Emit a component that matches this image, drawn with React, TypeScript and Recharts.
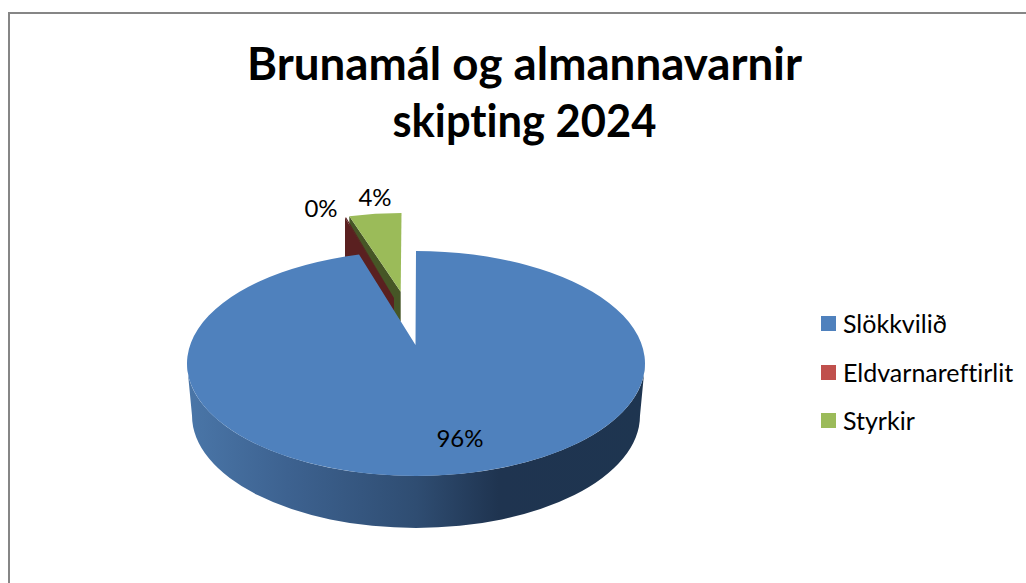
import React from "react";
import { PieChart, Pie, Legend } from "recharts";

const categories = ["Slökkvilið", "Eldvarnareftirlit", "Styrkir"];
const values = [96, 0.1, 3.9];
const colors = ["#4F81BD", "#C0504D", "#9BBB59"];
const titleLines = ["Brunamál og almannavarnir", "skipting 2024"];

// Drawn last-to-first so the large slice overlaps the exploded ones.
const table = categories.map((name, i) => ({ name, value: values[i], fill: colors[i] })).reverse();

const FONT = "Lato, 'Open Sans', sans-serif";
const TITLE_WIDTHS = [555, 264];

type Geo = {
  ax: number; ay: number; cx: number; cy: number; rx: number; ry: number;
  wall: string; outerDepth: number; apexDepth: number;
  labelX: number; labelY: number;
};
const GEO: Record<string, Geo> = {
  "Slökkvilið": { ax: 415.5, ay: 345, cx: 416, cy: 363.5, rx: 229, ry: 112.5, wall: "url(#blueWall)", outerDepth: 52, apexDepth: 0, labelX: 460, labelY: 447 },
  "Eldvarnareftirlit": { ax: 394, ay: 298, cx: 394, cy: 314.5, rx: 197, ry: 100, wall: "#5A2020", outerDepth: 40, apexDepth: 30, labelX: 321, labelY: 217 },
  "Styrkir": { ax: 400.7, ay: 291.7, cx: 401.5, cy: 318, rx: 215, ry: 105, wall: "#465626", outerDepth: 38, apexDepth: 30, labelX: 375, labelY: 206 },
};

function pt(g: Geo, recAngle: number, dy = 0, cxo = 0) {
  const t = ((90 - recAngle) * Math.PI) / 180;
  return [g.cx + cxo + g.rx * Math.sin(t), g.cy + dy - g.ry * Math.cos(t)];
}

function SliceShape(props: any) {
  const name = props.name ?? props.payload?.name;
  const g = GEO[name];
  const a0 = Math.min(props.startAngle, props.endAngle);
  const a1 = Math.max(props.startAngle, props.endAngle);
  // a0..a1 run counter-clockwise on screen
  const p0 = pt(g, a0);
  const p1 = pt(g, a1);
  const large = a1 - a0 > 180 ? 1 : 0;
  const face = `M${g.ax},${g.ay} L${p0[0]},${p0[1]} A${g.rx},${g.ry} 0 ${large} 0 ${p1[0]},${p1[1]} Z`;
  let wallPath: string;
  if (name === categories[0]) {
    const d = g.outerDepth;
    const brx = 224;
    wallPath = `M${g.cx - g.rx},${g.cy} L${g.cx - brx},${g.cy + d} A${brx},${g.ry} 0 0 0 ${g.cx + brx},${g.cy + d} L${g.cx + g.rx},${g.cy} A${g.rx},${g.ry} 0 0 1 ${g.cx - g.rx},${g.cy} Z`;
  } else {
    wallPath = `M${p1[0]},${p1[1]} L${g.ax},${g.ay} L${g.ax},${g.ay + g.apexDepth} L${p1[0]},${p1[1] + g.outerDepth} Z`;
  }
  return (
    <g>
      <defs>
        <linearGradient id="blueWall" gradientUnits="userSpaceOnUse" x1="187" y1="0" x2="645" y2="0">
          <stop offset="0" stopColor="#4A76A8" />
          <stop offset="0.22" stopColor="#3D6290" />
          <stop offset="0.5" stopColor="#2F4D72" />
          <stop offset="0.68" stopColor="#1F3450" />
          <stop offset="1" stopColor="#1E3550" />
        </linearGradient>
      </defs>
      <path d={wallPath} fill={g.wall} />
      <path d={face} fill={name === categories[1] ? g.wall : props.fill} />
    </g>
  );
}

function sliceLabel(props: any) {
  const g = GEO[props.name ?? props.payload?.name];
  return (
    <text x={g.labelX} y={g.labelY} textAnchor="middle" fontFamily={FONT} fontSize={24} fill="#000">
      {`${Math.round(props.percent * 100)}%`}
    </text>
  );
}

function LegendContent(props: any) {
  const items = [...(props.payload ?? [])].sort(
    (a: any, b: any) => categories.indexOf(a.value) - categories.indexOf(b.value),
  );
  return (
    <div style={{ position: "absolute", left: 821, top: 0 }}>
      {items.map((it: any, i: number) => (
        <div key={it.value} style={{ position: "absolute", left: 0, top: 316 + i * 48.7, whiteSpace: "nowrap", height: 15 }}>
          <span style={{ position: "absolute", left: 0, top: 0, width: 15, height: 15, background: it.payload?.fill ?? it.color }} />
          <span style={{ position: "absolute", left: 22, top: -7, fontFamily: FONT, fontSize: 25, lineHeight: "29px", color: "#000", fontVariantLigatures: "none" }}>{it.value}</span>
        </div>
      ))}
    </div>
  );
}

export default function App() {
  return (
    <div style={{ position: "absolute", left: 0, top: 0, width: 1026, height: 583, overflow: "hidden", background: "#fff" }}>
      <div style={{ position: "absolute", left: 8, top: 12, width: 1030, height: 600, borderLeft: "2px solid #868686", borderTop: "2px solid #868686" }} />
      <PieChart width={1026} height={583} style={{ position: "absolute", left: 0, top: 0 }}>
        {titleLines.map((line, i) => (
          <text key={line} x={524.5} y={80 + i * 57} textAnchor="middle" fontFamily={FONT} fontWeight={700} fontSize={46} fill="#000" textLength={TITLE_WIDTHS[i]} lengthAdjust="spacingAndGlyphs" style={{ fontVariantLigatures: "none" }}>
            {line}
          </text>
        ))}
        <Pie
          data={table}
          dataKey="value"
          nameKey="name"
          cx={416}
          cy={363}
          outerRadius={112}
          startAngle={90}
          endAngle={450}
          stroke="none"
          isAnimationActive={false}
          shape={SliceShape}
          label={sliceLabel}
          labelLine={false}
        />
        <Legend content={LegendContent} wrapperStyle={{ position: "absolute", left: 0, top: 0, width: 1026, height: 0 }} />
      </PieChart>
    </div>
  );
}
